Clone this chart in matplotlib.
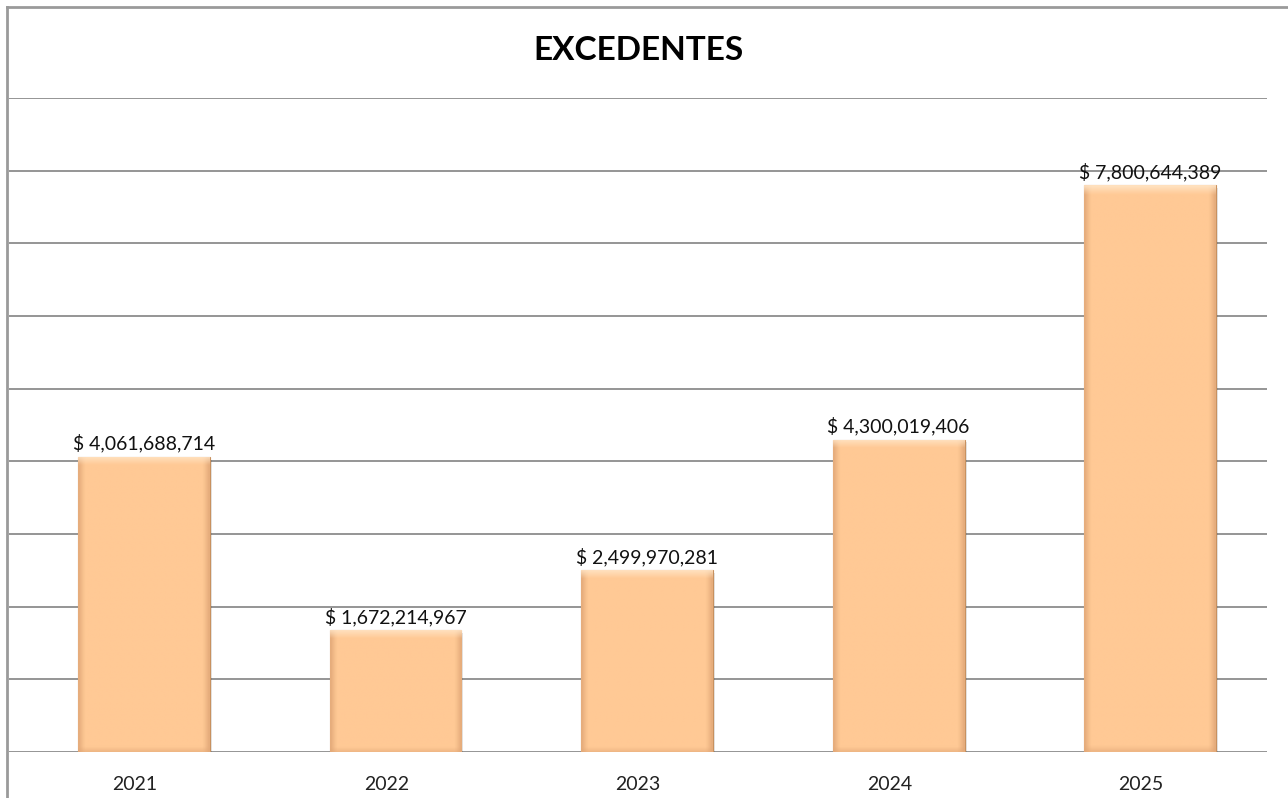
import matplotlib.pyplot as plt
import numpy as np
from matplotlib.lines import Line2D

plt.rcParams['font.family'] = ['Lato', 'DejaVu Sans']

# datos
years = ['2021', '2022', '2023', '2024', '2025']
excedentes = [4061688714, 1672214967, 2499970281, 4300019406, 7800644389]
titulo = 'EXCEDENTES'

fig = plt.figure(figsize=(12.88, 7.98), dpi=100)
ax = fig.add_axes([9 / 1288, 46 / 798, 1258 / 1288, 654 / 798])

x = np.arange(len(years))
off = 0.036  # las barras estan un poco corridas a la derecha en el original
w = 0.524

# sombra suave
ax.bar(x + off + 0.008, excedentes, width=w, bottom=-0.04e9, color='#000000',
       alpha=0.10, zorder=2, linewidth=0)
bars = ax.bar(x + off, excedentes, width=w, color='#FFC995', edgecolor='#C8915F',
              linewidth=0.8, zorder=3)

# efecto de bisel: degradado recortado a cada barra
nx, ny = 60, 200
u = np.linspace(0, 1, nx)
prof_x = np.clip(np.minimum(u, 1 - u) / 0.045, 0, 1)
base = np.array([0xFF, 0xC9, 0x95]) / 255
dark = np.array([0xE0, 0xA6, 0x76]) / 255
light = np.array([0xFF, 0xE6, 0xC8]) / 255
for b in bars:
    x0, y0, bw, bh = b.get_x(), b.get_y(), b.get_width(), b.get_height()
    px_h = bh / 9e9 * 654
    t = np.linspace(0, 1, ny)[:, None]  # 0 = abajo, 1 = arriba
    edge_px = 8.0
    top_band = np.clip((t * px_h - (px_h - edge_px)) / edge_px, 0, 1)
    bot_band = np.clip((edge_px * 0.6 - t * px_h) / (edge_px * 0.6), 0, 1)
    img = base[None, None, :] * np.ones((ny, nx, 3))
    side = (1 - prof_x)[None, :, None] * 0.8
    img = img * (1 - side) + dark[None, None, :] * side
    tb = top_band[:, :, None] * np.ones((1, nx, 1))
    img = img * (1 - tb * 0.8) + light[None, None, :] * tb * 0.8
    bb = bot_band[:, :, None] * np.ones((1, nx, 1))
    img = img * (1 - bb * 0.5) + dark[None, None, :] * bb * 0.5
    im = ax.imshow(img, extent=[x0, x0 + bw, y0, y0 + bh], origin='lower',
                   aspect='auto', zorder=3.5, interpolation='bilinear')
    im.set_clip_path(b)

for xi, v in zip(x, excedentes):
    ax.annotate('$ {:,}'.format(v), (xi + off, v), xytext=(0, 3),
                textcoords='offset points', ha='center', va='bottom',
                fontsize=14, color='#111111', zorder=5)

ax.set_xlim(-0.5, len(years) - 0.5)
ax.set_ylim(0, 9e9)
ax.set_yticks(np.arange(0, 9.01e9, 1e9))
ax.set_yticklabels([])
ax.tick_params(axis='y', length=0)
ax.set_xticks(x)
ax.set_xticklabels(years, fontsize=14, color='#222222')
ax.tick_params(axis='x', length=0, pad=17)
ax.grid(axis='y', color='#8C8C8C', linewidth=1.3, zorder=1)
ax.set_axisbelow(True)
for s in ax.spines.values():
    s.set_visible(False)

ax.set_title(titulo, fontsize=24, fontweight='bold', pad=27, color='#000000')

# borde del area del grafico (recortado a la derecha y abajo)
fig.add_artist(Line2D([7 / 1288, 7 / 1288], [0, 1 - 7 / 798], transform=fig.transFigure,
                      color='#9A9A9A', linewidth=2))
fig.add_artist(Line2D([7 / 1288, 1], [1 - 7 / 798, 1 - 7 / 798], transform=fig.transFigure,
                      color='#9A9A9A', linewidth=2))

plt.savefig('out.png', dpi=100)
